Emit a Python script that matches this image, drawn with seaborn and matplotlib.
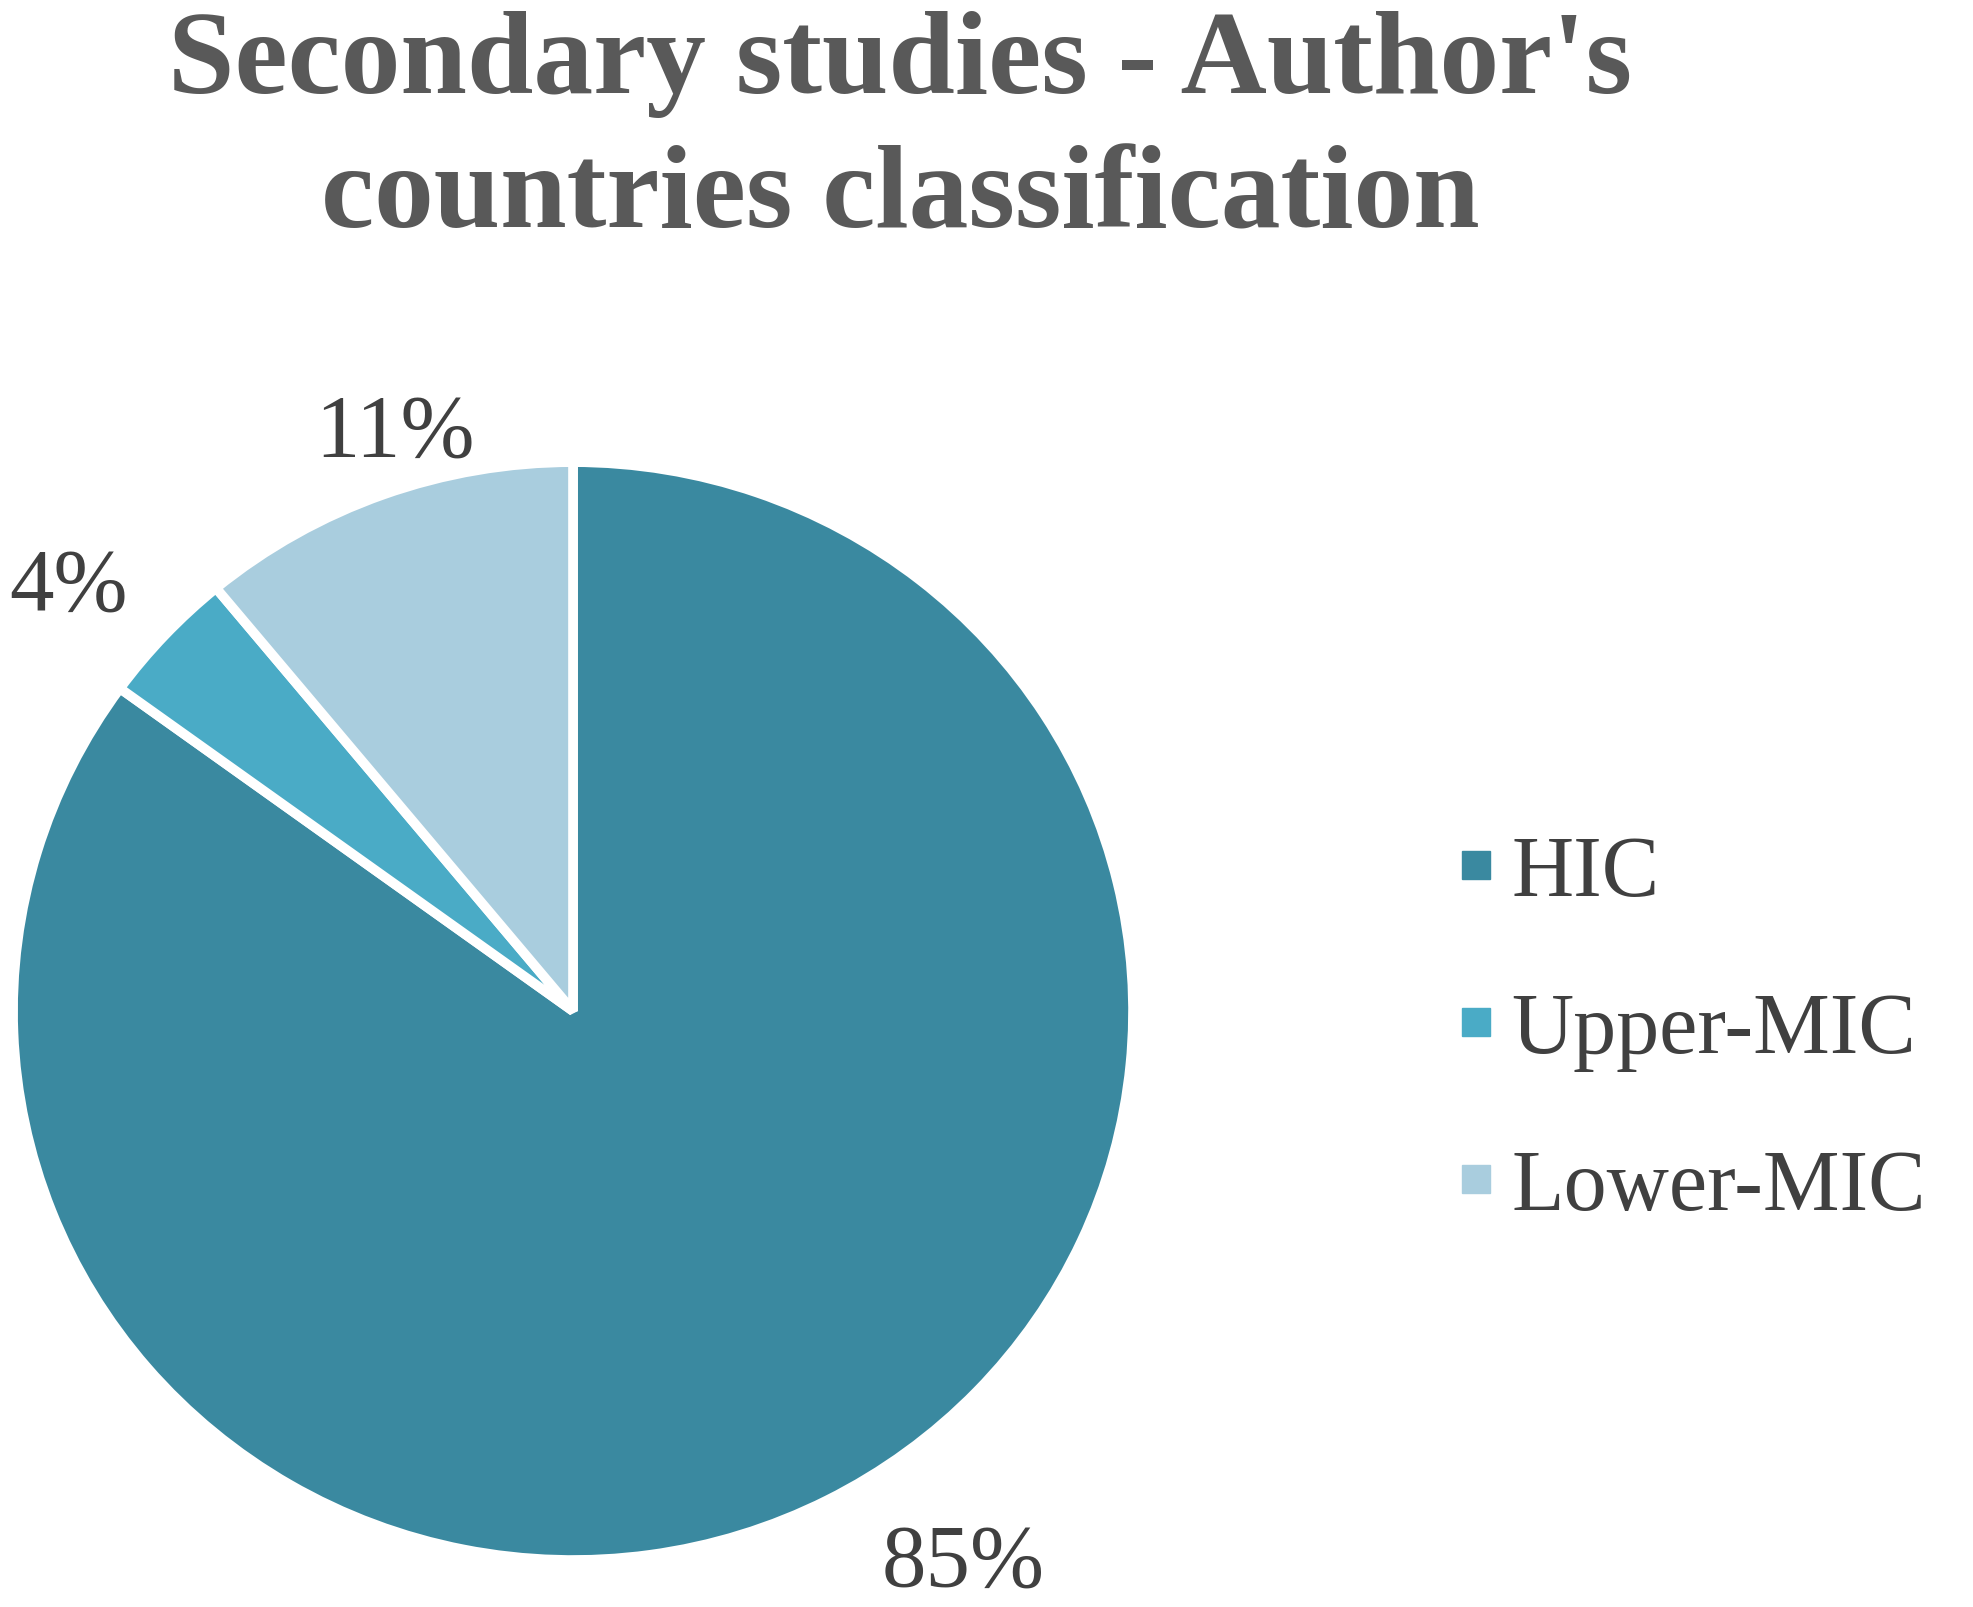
import matplotlib
matplotlib.use("Agg")
import matplotlib.pyplot as plt
import numpy as np
import seaborn as sns
from matplotlib.lines import Line2D

# data
categories = ["HIC", "Upper-MIC", "Lower-MIC"]
shares = [85, 4, 11]
pct_labels = ["85%", "4%", "11%"]
colors = ["#3A89A0", "#4AABC6", "#A9CDDE"]

sns.set_theme(style="white")
plt.rcParams["font.family"] = ["Liberation Serif", "DejaVu Serif"]
pal = sns.color_palette(colors)

fig = plt.figure(figsize=(19.74, 16.08), dpi=100)
ax = fig.add_axes([0.00659, 0.0292, 0.5674, 0.6828])

wedges, _ = ax.pie(shares, colors=pal, startangle=90, counterclock=False,
                   radius=1, wedgeprops=dict(edgecolor="white", linewidth=7,
                                             joinstyle="bevel"))
ax.set_xlim(-1, 1)
ax.set_ylim(-1, 1)
ax.set_aspect("auto")
ax.axis("off")

# label placement: (distance from centre, angle nudge in degrees)
label_pos = [(1.224, 7.7), (1.187, 2.6), (1.100, -3.0)]
for w, txt, (d, nudge) in zip(wedges, pct_labels, label_pos):
    ang = np.deg2rad((w.theta1 + w.theta2) / 2 + nudge)
    ax.text(d * np.cos(ang), d * np.sin(ang), txt, ha="center", va="center",
            fontsize=64, color="#404040")

fig.text(0.456, 0.993, "Secondary studies - Author's\ncountries classification",
         ha="center", va="top", fontsize=86, fontweight="bold",
         color="#595959", linespacing=1.33)

handles = [Line2D([0], [0], marker="s", linestyle="none", markersize=20,
                  markerfacecolor=c, markeredgecolor=c) for c in pal]
fig.legend(handles, categories, loc="center left", bbox_to_anchor=(0.739, 0.358),
           frameon=False, fontsize=62, handlelength=0.4, handletextpad=0.21,
           labelspacing=0.9, borderpad=0, borderaxespad=0, labelcolor="#404040")

fig.savefig("out.png", dpi=100)
